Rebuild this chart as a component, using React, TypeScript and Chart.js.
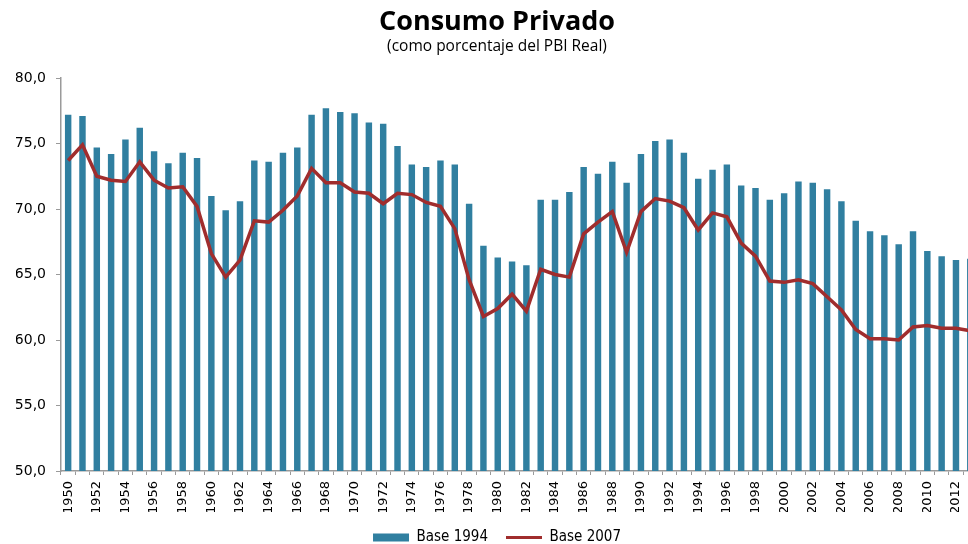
import React, { useEffect, useRef } from "react";
import { Chart, registerables } from "chart.js";

Chart.register(...registerables);

const years = [
  "1950", "1951", "1952", "1953", "1954", "1955", "1956", "1957", "1958", "1959",
  "1960", "1961", "1962", "1963", "1964", "1965", "1966", "1967", "1968", "1969",
  "1970", "1971", "1972", "1973", "1974", "1975", "1976", "1977", "1978", "1979",
  "1980", "1981", "1982", "1983", "1984", "1985", "1986", "1987", "1988", "1989",
  "1990", "1991", "1992", "1993", "1994", "1995", "1996", "1997", "1998", "1999",
  "2000", "2001", "2002", "2003", "2004", "2005", "2006", "2007", "2008", "2009",
  "2010", "2011", "2012", "2013",
];

const base1994 = [
  77.2, 77.1, 74.7, 74.2, 75.3, 76.2, 74.4, 73.5, 74.3, 73.9,
  71.0, 69.9, 70.6, 73.7, 73.6, 74.3, 74.7, 77.2, 77.7, 77.4,
  77.3, 76.6, 76.5, 74.8, 73.4, 73.2, 73.7, 73.4, 70.4, 67.2,
  66.3, 66.0, 65.7, 70.7, 70.7, 71.3, 73.2, 72.7, 73.6, 72.0,
  74.2, 75.2, 75.3, 74.3, 72.3, 73.0, 73.4, 71.8, 71.6, 70.7,
  71.2, 72.1, 72.0, 71.5, 70.6, 69.1, 68.3, 68.0, 67.3, 68.3,
  66.8, 66.4, 66.1, 66.2,
];

const base2007 = [
  73.7, 74.9, 72.5, 72.2, 72.1, 73.6, 72.2, 71.6, 71.7, 70.2,
  66.6, 64.8, 66.1, 69.1, 69.0, 69.9, 71.0, 73.1, 72.0, 72.0,
  71.3, 71.2, 70.4, 71.2, 71.1, 70.5, 70.2, 68.5, 64.6, 61.8,
  62.4, 63.5, 62.2, 65.4, 65.0, 64.8, 68.1, 69.0, 69.8, 66.7,
  69.8, 70.8, 70.6, 70.1, 68.4, 69.7, 69.4, 67.4, 66.4, 64.5,
  64.4, 64.6, 64.3, 63.3, 62.3, 60.8, 60.1, 60.1, 60.0, 61.0,
  61.1, 60.9, 60.9, 60.7,
];

const yMin = 50;
const yMax = 80;
const yStep = 5;

const seriesNames = ["Base 1994", "Base 2007"];
const titleText = "Consumo Privado";
const subtitleText = "(como porcentaje del PBI Real)";

const BAR_COLOR = "#307FA0";
const LINE_COLOR = "#A02D2D";
const AXIS_COLOR = "#9a9a9a";

export default function App() {
  const canvasRef = useRef<HTMLCanvasElement | null>(null);

  useEffect(() => {
    if (!canvasRef.current) return;
    const chart = new Chart(canvasRef.current, {
      type: "bar",
      data: {
        labels: years,
        datasets: [
          {
            type: "bar",
            label: seriesNames[0],
            data: base1994,
            backgroundColor: BAR_COLOR,
            borderWidth: 0,
            barPercentage: 0.45,
            categoryPercentage: 1,
            order: 2,
          },
          {
            type: "line",
            label: seriesNames[1],
            data: base2007,
            borderColor: LINE_COLOR,
            backgroundColor: LINE_COLOR,
            borderWidth: 3.5,
            pointRadius: 0,
            tension: 0,
            order: 1,
          },
        ],
      },
      options: {
        animation: false,
        responsive: true,
        maintainAspectRatio: false,
        layout: { padding: { left: 16, right: 14, top: 0, bottom: -11 } },
        plugins: {
          tooltip: { enabled: false },
          title: {
            display: true,
            text: titleText,
            color: "#000",
            font: { family: "'Open Sans', sans-serif", size: 27, weight: "bold" },
            padding: { top: 6, bottom: 0 },
          },
          subtitle: {
            display: true,
            text: subtitleText,
            color: "#000",
            font: { family: "'Open Sans', sans-serif", size: 15.5 },
            padding: { top: -1, bottom: 22 },
          },
          legend: {
            position: "bottom",
            labels: {
              usePointStyle: true,
              pointStyleWidth: 36,
              boxHeight: 8,
              padding: 18,
              color: "#000",
              font: { family: "'Liberation Sans Narrow', 'DejaVu Sans Condensed', sans-serif", size: 15 },
              generateLabels: () => [
                {
                  text: seriesNames[0],
                  fillStyle: BAR_COLOR,
                  strokeStyle: BAR_COLOR,
                  lineWidth: 0,
                  pointStyle: "rect",
                  hidden: false,
                  datasetIndex: 0,
                  fontColor: "#000",
                },
                {
                  text: seriesNames[1],
                  fillStyle: LINE_COLOR,
                  strokeStyle: LINE_COLOR,
                  lineWidth: 3,
                  pointStyle: "line",
                  hidden: false,
                  datasetIndex: 1,
                  fontColor: "#000",
                },
              ],
            },
          },
        },
        scales: {
          x: {
            type: "category",
            offset: true,
            afterFit: (scale: any) => {
              scale.height = 41;
            },
            grid: {
              display: true,
              drawOnChartArea: false,
              drawTicks: true,
              tickLength: 4,
              color: AXIS_COLOR,
              offset: true,
            },
            border: { display: true, color: AXIS_COLOR, width: 1.5 },
            ticks: {
              autoSkip: false,
              minRotation: 90,
              maxRotation: 90,
              padding: 6,
              color: "#000",
              font: { family: "'DejaVu Sans', sans-serif", size: 13 },
              callback: (_v: any, i: number) => (i % 2 === 0 ? years[i] : ""),
            },
          },
          y: {
            min: yMin,
            max: yMax,
            afterFit: (scale: any) => {
              scale.width = 45;
            },
            grid: {
              display: true,
              drawOnChartArea: false,
              drawTicks: true,
              tickLength: 5,
              color: AXIS_COLOR,
            },
            border: { display: true, color: AXIS_COLOR, width: 1.5 },
            ticks: {
              stepSize: yStep,
              padding: 10,
              color: "#000",
              font: { family: "'DejaVu Sans', sans-serif", size: 14 },
              callback: (v: any) => Number(v).toFixed(1).replace(".", ","),
            },
          },
        },
      },
    } as any);
    return () => chart.destroy();
  }, []);

  return (
    <div
      style={{
        position: "absolute",
        left: 0,
        top: 0,
        width: 968,
        height: 544,
        overflow: "hidden",
        background: "#fff",
      }}
    >
      <div style={{ position: "relative", width: 992, height: 544 }}>
        <canvas ref={canvasRef} />
      </div>
    </div>
  );
}
